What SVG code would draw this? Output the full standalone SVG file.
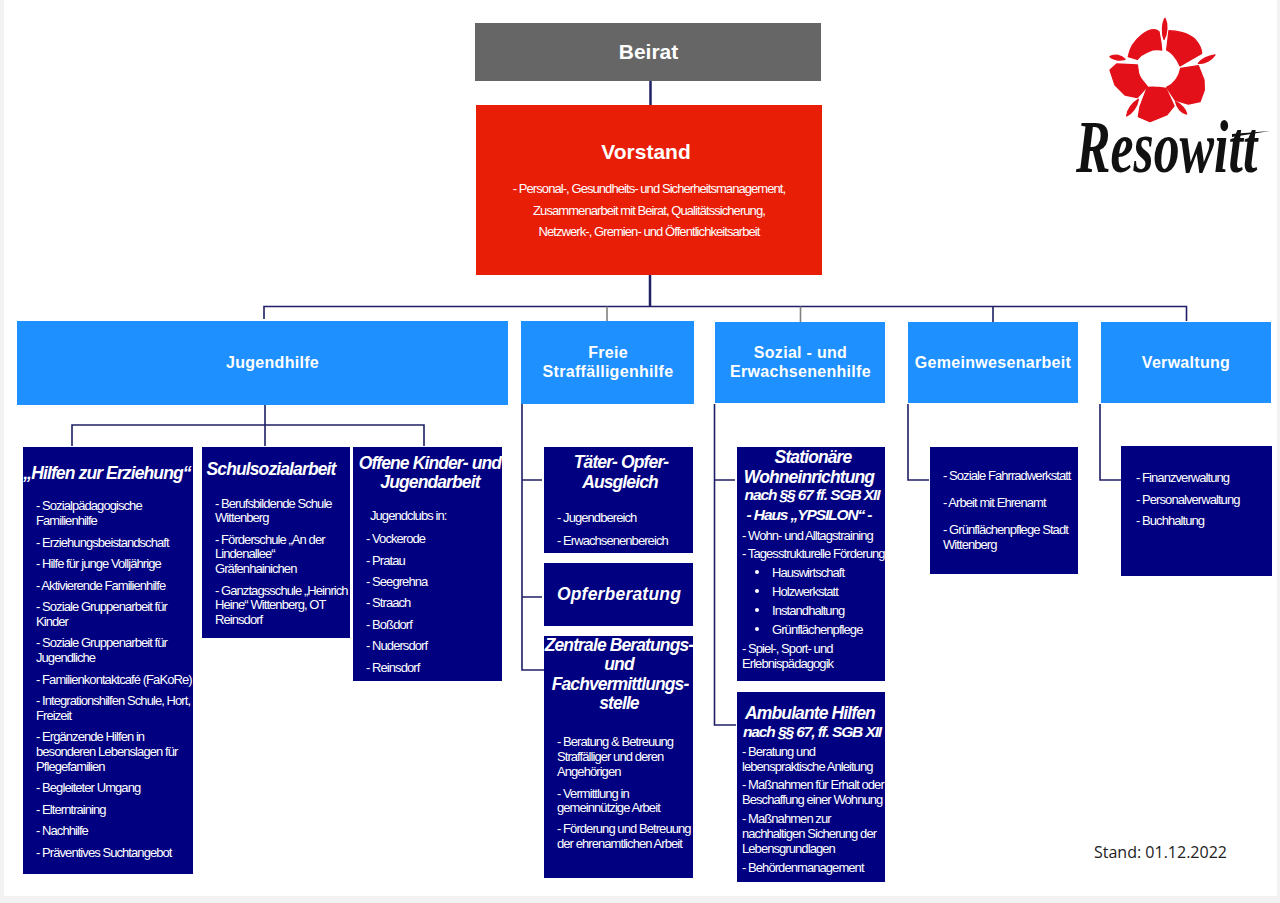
<svg xmlns="http://www.w3.org/2000/svg" width="1280" height="903" viewBox="0 0 1280 903">
<style>
text{font-family:"Liberation Sans",Arial,sans-serif;fill:#fff}
.b{font-size:13px;letter-spacing:-.93px}
.h{font-size:17.5px;font-weight:bold;font-style:italic;letter-spacing:-.88px;text-anchor:middle}
.s{font-size:15.500px;letter-spacing:-1.100px}
.c{font-size:16px;font-weight:bold;text-anchor:middle;letter-spacing:.3px}
.n{fill:#000080}.d{fill:#1e90ff}
.l{fill:none;stroke:#1f1f66;stroke-width:1.600}
.t{stroke-width:2.500}
</style>
<rect width="1280" height="903" fill="#f2f2f2"/>
<rect x="4" y="0" width="1273" height="896" fill="#fff"/>
<g id="connectors">
<path class="l t" d="M650.500 81V105"/>
<path class="l t" d="M650 275V306"/>
<path class="l" d="M264 319V306.500H1186.500V321M993 306.500V322"/>
<path d="M607 306.500V321M800.500 306.500V322" fill="none" stroke="#808080" stroke-width="1.600"/>
<path class="l" d="M265 405V446M72 446V425H424V446"/>
<path class="l" d="M522 404V670H544M522 480H542M522 597H542"/>
<path class="l" d="M714.500 404V725H736M714.500 480H735"/>
<path class="l" d="M908 404V480H929"/>
<path class="l" d="M1100 404V480H1121"/>
</g>
<g id="beirat"><rect x="475" y="23" width="346" height="58" fill="#666"/><text x="648.500" y="59" text-anchor="middle" font-size="21" font-weight="bold">Beirat</text></g>
<g id="vorstand"><rect x="476" y="105" width="346" height="170" fill="#e81e07"/><text x="646" y="159" text-anchor="middle" font-size="21" font-weight="bold">Vorstand</text>
<text class="b" x="649" y="193" text-anchor="middle">- Personal-, Gesundheits- und Sicherheitsmanagement,</text>
<text class="b" x="649" y="215" text-anchor="middle">Zusammenarbeit mit Beirat, Qualitätssicherung,</text>
<text class="b" x="649" y="236" text-anchor="middle">Netzwerk-,  Gremien- und Öffentlichkeitsarbeit</text></g>
<g id="jugendhilfe"><rect class="d" x="17" y="321" width="491" height="84"/><text class="c" x="272.500" y="368">Jugendhilfe</text></g>
<g id="freie"><rect class="d" x="521" y="321" width="173" height="83"/><text class="c" x="608" y="358">Freie</text><text class="c" x="608" y="377">Straffälligenhilfe</text></g>
<g id="sozial"><rect class="d" x="715" y="322" width="170" height="81"/><text class="c" x="800.500" y="358">Sozial - und</text><text class="c" x="800.500" y="377">Erwachsenenhilfe</text></g>
<g id="gemeinwesen"><rect class="d" x="908" y="322" width="170" height="81"/><text class="c" x="993" y="368">Gemeinwesenarbeit</text></g>
<g id="verwaltung"><rect class="d" x="1101" y="322" width="170" height="81"/><text class="c" x="1186" y="368">Verwaltung</text></g>

<g id="hilfen"><rect class="n" x="23" y="447" width="170" height="427"/>
<text class="h" x="107" y="479">„Hilfen zur Erziehung“</text>
<text class="b" x="36" y="510">- Sozialpädagogische</text><text class="b" x="36" y="525">Familienhilfe</text>
<text class="b" x="36" y="547">- Erziehungsbeistandschaft</text>
<text class="b" x="36" y="568">- Hilfe für junge Volljährige</text>
<text class="b" x="36" y="590">- Aktivierende Familienhilfe</text>
<text class="b" x="36" y="611">- Soziale Gruppenarbeit für</text><text class="b" x="36" y="626">Kinder</text>
<text class="b" x="36" y="647">- Soziale Gruppenarbeit für</text><text class="b" x="36" y="662">Jugendliche</text>
<text class="b" x="36" y="684">- Familienkontaktcafé (FaKoRe)</text>
<text class="b" x="36" y="705">- Integrationshilfen Schule, Hort,</text><text class="b" x="36" y="720">Freizeit</text>
<text class="b" x="36" y="741">- Ergänzende Hilfen in</text><text class="b" x="36" y="756">besonderen Lebenslagen für</text><text class="b" x="36" y="771">Pflegefamilien</text>
<text class="b" x="36" y="792">- Begleiteter Umgang</text>
<text class="b" x="36" y="814">- Elterntraining</text>
<text class="b" x="36" y="835">- Nachhilfe</text>
<text class="b" x="36" y="857">- Präventives Suchtangebot</text></g>

<g id="schul"><rect class="n" x="202" y="447" width="148" height="191"/>
<text class="h" x="271" y="475">Schulsozialarbeit</text>
<text class="b" x="215" y="508">- Berufsbildende Schule</text><text class="b" x="215" y="522">Wittenberg</text>
<text class="b" x="215" y="544">- Förderschule „An der</text><text class="b" x="215" y="558">Lindenallee“</text><text class="b" x="215" y="573">Gräfenhainichen</text>
<text class="b" x="215" y="595">- Ganztagsschule „Heinrich</text><text class="b" x="215" y="609">Heine“ Wittenberg, OT</text><text class="b" x="215" y="624">Reinsdorf</text></g>

<g id="offene"><rect class="n" x="353" y="447" width="149" height="234"/>
<text class="h" x="430" y="469">Offene Kinder- und</text><text class="h" x="430" y="488">Jugendarbeit</text>
<text class="b" x="370" y="520">Jugendclubs in:</text>
<text class="b" x="366" y="543">- Vockerode</text>
<text class="b" x="366" y="565">- Pratau</text>
<text class="b" x="366" y="586">- Seegrehna</text>
<text class="b" x="366" y="607">- Straach</text>
<text class="b" x="366" y="629">- Boßdorf</text>
<text class="b" x="366" y="650">- Nudersdorf</text>
<text class="b" x="366" y="672">- Reinsdorf</text></g>

<g id="toa"><rect class="n" x="544" y="447" width="149" height="106"/>
<text class="h" x="621" y="468">Täter- Opfer-</text><text class="h" x="620" y="488">Ausgleich</text>
<text class="b" x="557" y="522">- Jugendbereich</text>
<text class="b" x="557" y="545">- Erwachsenenbereich</text></g>

<g id="opfer"><rect class="n" x="544" y="563" width="149" height="63"/>
<text class="h" x="619" y="600" style="letter-spacing:.2px">Opferberatung</text></g>

<g id="zentrale"><rect class="n" x="544" y="636" width="149" height="242"/>
<text class="h" x="619" y="651">Zentrale Beratungs-</text><text class="h" x="619" y="670">und</text><text class="h" x="620" y="690">Fachvermittlungs-</text><text class="h" x="619" y="709">stelle</text>
<text class="b" x="557" y="746">- Beratung &amp; Betreuung</text><text class="b" x="557" y="761">Straffälliger und deren</text><text class="b" x="557" y="776">Angehörigen</text>
<text class="b" x="557" y="798">- Vermittlung in</text><text class="b" x="557" y="812">gemeinnützige Arbeit</text>
<text class="b" x="557" y="833">- Förderung und Betreuung</text><text class="b" x="557" y="848">der ehrenamtlichen Arbeit</text></g>

<g id="stationaer"><rect class="n" x="737" y="447" width="148" height="234"/>
<text class="h" x="813" y="463">Stationäre</text><text class="h" x="809" y="483">Wohneinrichtung</text>
<text class="h s" x="812" y="500">nach §§ 67 ff. SGB  XII</text>
<text class="h s" x="809" y="520">- Haus „YPSILON“ -</text>
<text class="b" x="742" y="540">- Wohn- und Alltagstraining</text>
<text class="b" x="742" y="558">- Tagesstrukturelle Förderung</text>
<circle cx="757" cy="572" r="2" fill="#fff"/><text class="b" x="772" y="577">Hauswirtschaft</text>
<circle cx="757" cy="591" r="2" fill="#fff"/><text class="b" x="772" y="596">Holzwerkstatt</text>
<circle cx="757" cy="610" r="2" fill="#fff"/><text class="b" x="772" y="615">Instandhaltung</text>
<circle cx="757" cy="629" r="2" fill="#fff"/><text class="b" x="772" y="634">Grünflächenpflege</text>
<text class="b" x="742" y="653">- Spiel-, Sport- und</text><text class="b" x="742" y="668">Erlebnispädagogik</text></g>

<g id="ambulant"><rect class="n" x="737" y="692" width="148" height="190"/>
<text class="h" x="810" y="719">Ambulante Hilfen</text>
<text class="h s" x="812" y="737">nach §§ 67, ff. SGB XII</text>
<text class="b" x="742" y="756">- Beratung und</text><text class="b" x="742" y="771">lebenspraktische Anleitung</text>
<text class="b" x="742" y="789">- Maßnahmen für Erhalt oder</text><text class="b" x="742" y="804">Beschaffung einer Wohnung</text>
<text class="b" x="742" y="823">- Maßnahmen zur</text><text class="b" x="742" y="838">nachhaltigen Sicherung der</text><text class="b" x="742" y="853">Lebensgrundlagen</text>
<text class="b" x="742" y="872">- Behördenmanagement</text></g>

<g id="gemein-box"><rect class="n" x="930" y="447" width="148" height="127"/>
<text class="b" x="943" y="480">- Soziale Fahrradwerkstatt</text>
<text class="b" x="943" y="507">- Arbeit mit Ehrenamt</text>
<text class="b" x="943" y="534">- Grünflächenpflege Stadt</text><text class="b" x="943" y="549">Wittenberg</text></g>

<g id="verw-box"><rect class="n" x="1121" y="446" width="151" height="130"/>
<text class="b" x="1136" y="482">- Finanzverwaltung</text>
<text class="b" x="1136" y="504">- Personalverwaltung</text>
<text class="b" x="1136" y="525">- Buchhaltung</text></g>

<g id="logo">
<g transform="translate(1060 0) scale(.3333)" fill="#e3101a" stroke="#e3101a" stroke-width="4" stroke-linejoin="round">
<path d="M205 170C208 150 220 125 245 105 265 90 285 85 297 95L303 130 305 150C270 150 245 160 232 178Z"/>
<path d="M320 150L327 92C350 92 385 100 405 118 420 135 425 150 425 160L360 198C350 175 340 160 320 150Z"/>
<path d="M362 205L415 197 432 240 433 270 420 305 385 312 345 300 320 262C345 250 358 228 362 205Z"/>
<path d="M262 262C280 260 300 262 318 265L342 318 320 345 270 365 235 350 240 320Z"/>
<path d="M150 210L170 192 232 195 238 225C245 240 255 250 262 260L232 293 195 285 165 255Z"/>
<path d="M315 55C323 70 323 100 312 118 305 100 306 70 315 55Z"/>
<path d="M465 165C455 180 435 192 415 190 425 178 445 168 465 165Z"/>
<path d="M150 170C165 160 185 168 195 178 180 182 160 180 150 170Z"/>
<path d="M235 298C232 320 215 342 200 348 202 328 218 308 235 298Z"/>
<path d="M347 305C362 312 378 328 380 342 365 340 350 322 347 305Z"/>
<circle cx="290" cy="205" r="54" fill="#fff" stroke="none"/>
</g>
<text transform="translate(1076 172) scale(.7 1)" font-weight="bold" font-style="italic" font-size="74" style="font-family:'Liberation Serif',serif;fill:#111">Resowitt</text>
<path d="M1232 134L1270 131 1232 137Z" fill="#111"/>
</g>
<text x="1094" y="858" font-size="16" style="font-family:'Open Sans','Liberation Sans',sans-serif;fill:#222">Stand: 01.12.2022</text>
</svg>
